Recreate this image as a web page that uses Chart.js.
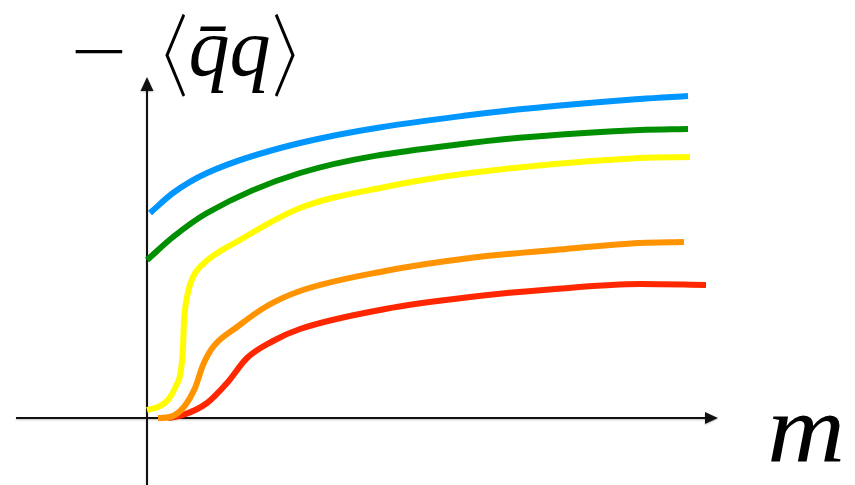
<!DOCTYPE html>
<html>
<head>
<meta charset="utf-8">
<script src="https://cdn.jsdelivr.net/npm/chart.js@4/dist/chart.umd.min.js"></script>
<style>
  html, body { margin: 0; padding: 0; background: #fff; }
  #wrap { width: 855px; height: 485px; position: relative; }
</style>
</head>
<body>
<div id="wrap"><canvas id="chart"></canvas></div>
<script>
// Chiral condensate -<q̄q> against quark mass m, five curves.
const mBlue   = [0.03, 0.26, 0.60, 1.53, 3.23, 4.93, 5.41];
const qBlue   = [2.05, 2.25, 2.45, 2.75, 3.03, 3.19, 3.22];

const mGreen  = [0.00, 0.26, 0.60, 1.53, 3.23, 4.93, 5.41];
const qGreen  = [1.58, 1.81, 2.05, 2.45, 2.75, 2.88, 2.89];

const mYellow = [0.00, 0.11, 0.21, 0.29, 0.34, 0.36, 0.37, 0.40, 0.46, 0.55, 0.93, 1.53, 2.38, 3.23, 4.93, 5.43];
const qYellow = [0.08, 0.11, 0.18, 0.32, 0.48, 0.71, 0.96, 1.21, 1.41, 1.53, 1.78, 2.10, 2.31, 2.45, 2.60, 2.61];

const mOrange = [0.11, 0.23, 0.36, 0.48, 0.56, 0.66, 0.90, 1.20, 1.53, 2.38, 3.23, 4.08, 4.93, 5.37];
const qOrange = [0.00, 0.01, 0.10, 0.30, 0.53, 0.71, 0.91, 1.12, 1.27, 1.47, 1.60, 1.68, 1.75, 1.76];

const mRed    = [0.21, 0.36, 0.60, 0.80, 1.00, 1.26, 1.53, 2.38, 3.23, 4.08, 4.93, 5.59];
const qRed    = [0.00, 0.03, 0.15, 0.35, 0.60, 0.77, 0.89, 1.09, 1.21, 1.29, 1.34, 1.33];

const curves = [
  { m: mBlue,   q: qBlue,   color: '#0096ff' },
  { m: mGreen,  q: qGreen,  color: '#008f00' },
  { m: mYellow, q: qYellow, color: '#fffb00' },
  { m: mOrange, q: qOrange, color: '#ff9300' },
  { m: mRed,    q: qRed,    color: '#ff2600' }
];

// Draws a string so that its inked box fills the given rectangle.
// fit 'both' stretches to width and height; a number keeps the height
// and widens the glyphs by that factor, centred on left + width / 2.
function inkText(ctx, text, style, left, top, width, height, fit) {
  ctx.save();
  ctx.font = style + ' 100px "Liberation Serif"';
  ctx.textAlign = 'left';
  ctx.textBaseline = 'alphabetic';
  const mt = ctx.measureText(text);
  const inkW = mt.actualBoundingBoxLeft + mt.actualBoundingBoxRight;
  const inkH = mt.actualBoundingBoxAscent + mt.actualBoundingBoxDescent;
  const sy = height / inkH;
  let sx = width / inkW;
  if (typeof fit === 'number') {
    sx = sy * fit;
    left = left + width / 2 - inkW * sx / 2;
  }
  ctx.translate(left, top);
  ctx.scale(sx, sy);
  ctx.fillText(text, mt.actualBoundingBoxLeft, mt.actualBoundingBoxAscent);
  ctx.restore();
}

// Axes drawn as arrows crossing at the origin, plus the axis symbols.
const arrowAxes = {
  id: 'arrowAxes',
  beforeDatasetsDraw(chart) {
    const { ctx, scales: { x, y } } = chart;
    const x0 = x.getPixelForValue(0);
    const y0 = y.getPixelForValue(0);
    const xStart = x.getPixelForValue(-1.31);
    const xTip = x.getPixelForValue(5.71);
    const yBottom = y.getPixelForValue(-0.67);
    const yTip = y.getPixelForValue(3.41);
    ctx.save();
    ctx.strokeStyle = '#111';
    ctx.fillStyle = '#111';
    ctx.lineWidth = 2;
    ctx.shadowColor = 'rgba(0,0,0,0.25)';
    ctx.shadowBlur = 2;
    ctx.shadowOffsetY = 1;
    ctx.beginPath();
    ctx.moveTo(xStart, y0);
    ctx.lineTo(xTip - 10, y0);
    ctx.moveTo(x0, yBottom);
    ctx.lineTo(x0, yTip + 10);
    ctx.stroke();
    ctx.beginPath();
    ctx.moveTo(xTip, y0);
    ctx.lineTo(xTip - 13, y0 - 6);
    ctx.lineTo(xTip - 13, y0 + 6);
    ctx.closePath();
    ctx.fill();
    ctx.beginPath();
    ctx.moveTo(x0, yTip);
    ctx.lineTo(x0 - 6.5, yTip + 14);
    ctx.lineTo(x0 + 6.5, yTip + 14);
    ctx.closePath();
    ctx.fill();
    ctx.restore();
  },
  afterDraw(chart) {
    const { ctx } = chart;
    ctx.save();
    ctx.fillStyle = '#000';
    inkText(ctx, '\u2212', 'normal', 75, 50, 48, 4, 'both');
    inkText(ctx, '\u3008', 'normal', 165, 13, 20, 84, 'both');
    inkText(ctx, 'q\u0304q', 'italic', 191, 26, 78, 66, 'both');
    inkText(ctx, '\u3009', 'normal', 275, 13, 20, 84, 'both');
    inkText(ctx, 'm', 'italic', 762, 415, 88, 47, 1.1);
    ctx.restore();
  }
};

const chart = new Chart(document.getElementById('chart'), {
  type: 'scatter',
  data: {
    datasets: curves.map(c => ({
      data: c.m.map((v, i) => ({ x: v, y: c.q[i] })),
      showLine: true,
      borderColor: c.color,
      backgroundColor: c.color,
      borderWidth: 6,
      borderCapStyle: 'butt',
      pointRadius: 0,
      pointHoverRadius: 0,
      cubicInterpolationMode: 'monotone',
      clip: false
    }))
  },
  options: {
    responsive: true,
    maintainAspectRatio: false,
    animation: false,
    layout: { padding: 0 },
    plugins: { legend: { display: false }, tooltip: { enabled: false } },
    events: [],
    scales: {
      x: { type: 'linear', display: false, min: -1.47, max: 7.08 },
      y: { type: 'linear', display: false, min: -0.67, max: 4.18 }
    }
  },
  plugins: [arrowAxes]
});

Promise.all([
  document.fonts.load('100px "Liberation Serif"', '\u2212\u3008\u3009'),
  document.fonts.load('italic 100px "Liberation Serif"', 'q\u0304qm')
]).then(() => chart.draw());
setTimeout(() => chart.draw(), 300);
</script>
</body>
</html>
